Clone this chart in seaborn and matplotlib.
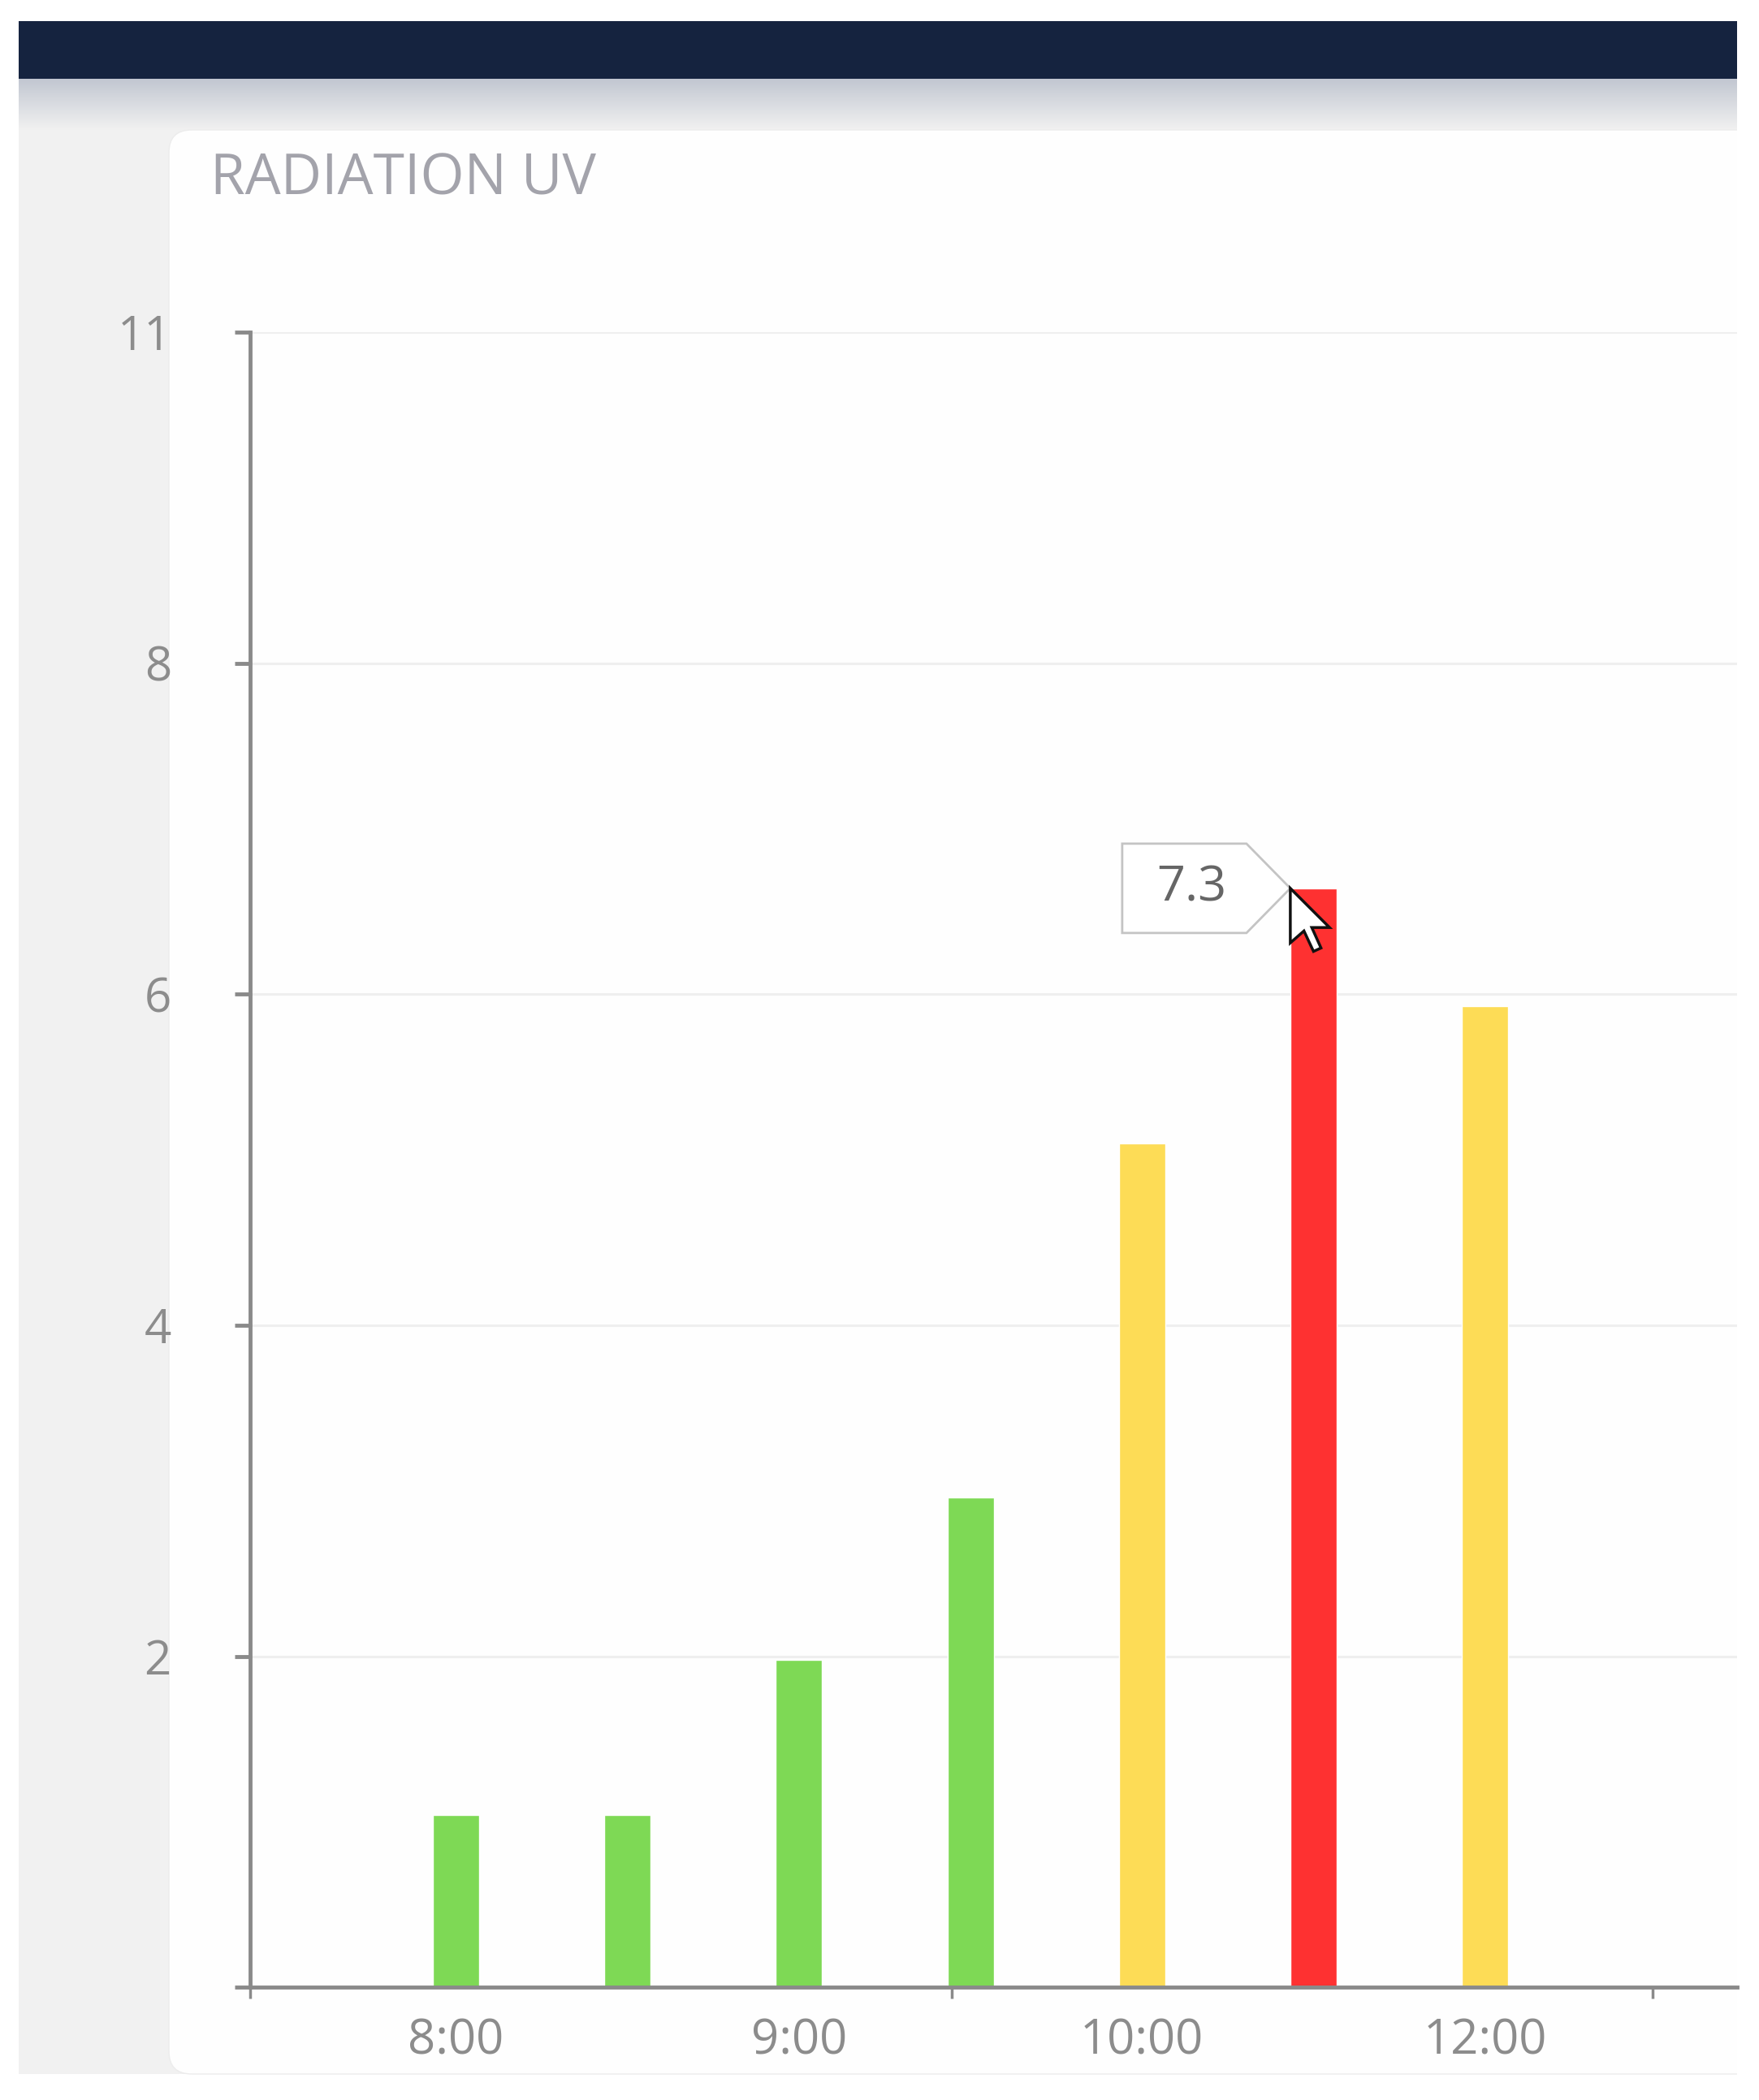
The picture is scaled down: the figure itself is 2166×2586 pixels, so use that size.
import numpy as np
import pandas as pd
import matplotlib
matplotlib.use("Agg")
import matplotlib.pyplot as plt
import matplotlib.patches as mpatches
import matplotlib.transforms as mtransforms
import seaborn as sns

# Data
times = ['8:00', '8:30', '9:00', '9:30', '10:00', '10:30', '12:00']
uv = [1.04, 1.04, 1.98, 2.96, 5.10, 6.64, 5.93]
levels = ['low', 'low', 'low', 'low', 'moderate', 'high', 'moderate']
x_labels = ['8:00', '', '9:00', '', '10:00', '', '12:00']
y_ticks = [0, 2, 4, 6, 8, 10]
y_labels = ['', '2', '4', '6', '8', '11']
tooltip_text = '7.3'
tooltip_idx = 5

level_colors = {'low': '#7ed955', 'moderate': '#fddc56', 'high': '#fe3131'}
df = pd.DataFrame({'time': times, 'uv': uv, 'level': levels})

sns.set_theme(style='white')
plt.rcParams['font.family'] = ['Open Sans', 'DejaVu Sans']

W, H = 2166, 2586
fig = plt.figure(figsize=(W / 100, H / 100), dpi=100)
fig.patch.set_facecolor('white')

# page background (pixel coords)
bg = fig.add_axes([0, 0, 1, 1], zorder=0)
bg.set_xlim(0, W)
bg.set_ylim(H, 0)
bg.axis('off')
bg.add_patch(mpatches.Rectangle((23, 26), 2116, 2528, color='#f1f1f1', lw=0, zorder=1))
bg.add_patch(mpatches.Rectangle((23, 26), 2116, 71, color='#15233f', lw=0, zorder=3))
grad = np.linspace(0, 1, 64)[:, None]
c0 = np.array([0.76, 0.78, 0.82])
c1 = np.array([0.945, 0.945, 0.945])
img = (c0 * (1 - grad) + c1 * grad)[:, None, :]
bg.imshow(img, extent=(23, 2139, 160, 97), aspect='auto',
          interpolation='bilinear', zorder=2)
bg.add_patch(mpatches.FancyBboxPatch((208, 160), 2000, 2394,
                                     boxstyle='round,pad=0,rounding_size=28',
                                     fc='#fefefe', ec='#ececec', lw=1, zorder=4))
bg.add_patch(mpatches.Rectangle((2139, 0), 40, H, color='white', lw=0, zorder=5))
bg.set_xlim(0, W)
bg.set_ylim(H, 0)
bg.text(259, 222, 'RADIATION UV', fontsize=50, color='#a3a3ab',
        va='center', ha='left', zorder=6)

# chart
ax = fig.add_axes([0.1423, 0.0537, 0.8452, 0.7881], zorder=2)
ax.set_facecolor('none')
bar_w = 0.27
sns.barplot(data=df, x='time', y='uv', hue='level', palette=level_colors,
            width=bar_w, dodge=False, saturation=1, legend=False, ax=ax, zorder=3)

ax.set_ylim(0, 10)
ax.set_xlim(-1.2, 7.47)
ax.set_yticks(y_ticks)
ax.set_yticklabels(y_labels)
ax.set_xticks(range(len(times)))
ax.set_xticklabels(x_labels)
ax.set_xticks([-1.2, 2.89, 6.98], minor=True)
ax.set_xlabel('')
ax.set_ylabel('')

for y in y_ticks[1:]:
    ax.axhline(y, color='#efefef', lw=2.2, zorder=1)

for s in ['top', 'right']:
    ax.spines[s].set_visible(False)
for s in ['left', 'bottom']:
    ax.spines[s].set_color('#8a8a8a')
    ax.spines[s].set_linewidth(3.5)
    ax.spines[s].set_zorder(4)

ax.tick_params(axis='y', which='major', left=True, length=14, width=3.5,
               color='#8a8a8a', labelsize=42, labelcolor='#8c8c8c', pad=56)
ax.tick_params(axis='x', which='major', bottom=False, labelsize=43,
               labelcolor='#8c8c8c', pad=20)
ax.tick_params(axis='x', which='minor', bottom=True, length=10, width=2.5,
               color='#8a8a8a')

# tooltip + cursor at the hovered bar
anchor = mtransforms.ScaledTranslation(tooltip_idx - bar_w / 2, uv[tooltip_idx], ax.transData)
tr = fig.dpi_scale_trans + anchor
tip = [(0, 0), (-0.54, 0.55), (-2.07, 0.55), (-2.07, -0.55), (-0.54, -0.55)]
ax.add_patch(mpatches.Polygon(tip, closed=True, fc='white', ec='#c4c4c4',
                              lw=2, transform=tr, zorder=6, clip_on=False))
ax.text(-1.22, 0.0, tooltip_text, transform=tr, fontsize=44, color='#666666',
        ha='center', va='center', zorder=7)
u = 0.042
cur = [(0, 0), (0, 16), (4, 12.5), (6.8, 18.5), (9, 17.5), (6.3, 11.5), (11.5, 11.5)]
cur = [(x * u, -y * u) for x, y in cur]
ax.add_patch(mpatches.Polygon(cur, closed=True, fc='white', ec='#111111',
                              lw=2.5, transform=tr, zorder=8, clip_on=False))

fig.savefig('out.png', dpi=100)
